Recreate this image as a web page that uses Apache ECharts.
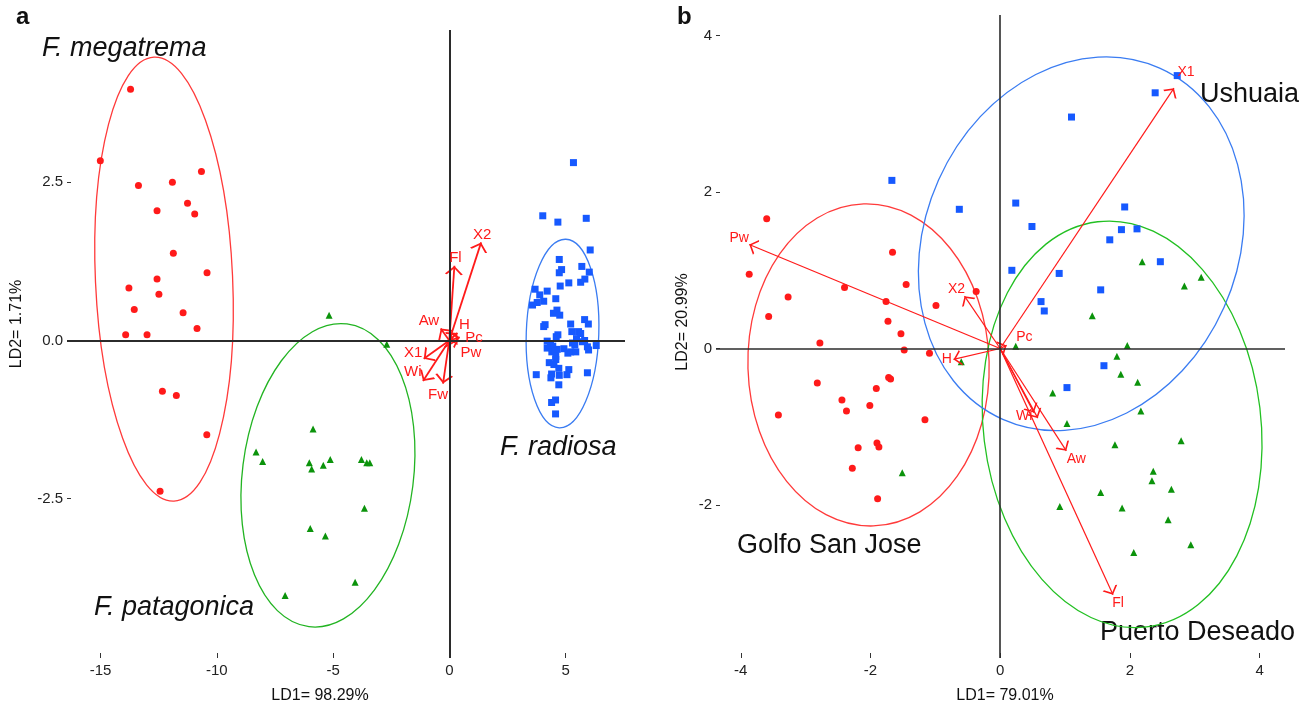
<!DOCTYPE html>
<html>
<head>
<meta charset="utf-8">
<script src="https://cdn.jsdelivr.net/npm/echarts@6/dist/echarts.min.js"></script>
<style>
html, body { margin: 0; padding: 0; background: #fff; }
#main { width: 1309px; height: 709px; }
</style>
</head>
<body>
<div id="main"></div>
<script>
// ---------- panel a : species ----------
var aRed = [[-13.71,3.97],[-15.01,2.84],[-10.66,2.67],[-13.37,2.45],[-11.91,2.50],[-11.26,2.17],
    [-12.57,2.05],[-10.95,2.00],[-11.87,1.38],[-10.42,1.07],[-12.57,0.97],[-13.78,0.83],[-12.49,0.73],
    [-13.55,0.49],[-11.45,0.44],[-10.85,0.19],[-13.92,0.09],[-13.00,0.09],[-12.34,-0.80],[-11.74,-0.87],
    [-10.43,-1.49],[-12.44,-2.38]];
var aGreen = [[-5.17,0.40],[-2.69,-0.06],[-5.86,-1.40],[-8.31,-1.76],[-8.03,-1.91],[-6.02,-1.93],
    [-5.92,-2.03],[-5.42,-1.97],[-5.12,-1.88],[-3.78,-1.88],[-3.55,-1.93],[-3.42,-1.93],[-3.65,-2.65],
    [-5.98,-2.97],[-5.33,-3.09],[-4.05,-3.82],[-7.06,-4.03]];
var aBlue = [[5.34,2.81],[4.02,1.97],[4.67,1.87],[5.89,1.93],[6.06,1.43],[4.73,1.28],[4.83,1.12],
    [4.73,1.07],[5.70,1.17],[6.02,1.08],[5.83,0.97],[5.65,0.92],[5.14,0.91],[4.77,0.86],[3.69,0.81],
    [4.21,0.78],[3.89,0.72],[4.58,0.66],[3.78,0.60],[4.06,0.62],[3.58,0.56],[4.63,0.48],[4.48,0.43],
    [4.75,0.40],[5.82,0.33],[5.98,0.26],[5.22,0.26],[4.12,0.25],[4.06,0.22],[5.27,0.14],[5.56,0.14],
    [5.65,0.11],[4.67,0.09],[4.60,0.06],[5.47,0.03],[5.82,0.00],[5.73,-0.02],[4.21,-0.01],[4.35,-0.05],
    [5.30,-0.04],[4.45,-0.09],[4.21,-0.12],[4.64,-0.14],[4.93,-0.13],[5.40,-0.07],[5.94,-0.10],
    [5.99,-0.15],[6.32,-0.08],[4.41,-0.18],[4.56,-0.17],[5.10,-0.20],[5.22,-0.18],[5.44,-0.18],
    [4.58,-0.25],[4.58,-0.30],[4.30,-0.35],[4.50,-0.38],[4.71,-0.44],[5.14,-0.46],[5.06,-0.54],
    [3.74,-0.54],[4.40,-0.53],[4.37,-0.59],[4.73,-0.55],[5.94,-0.51],[4.71,-0.70],[4.57,-0.94],
    [4.40,-0.98],[4.57,-1.16]];
// variable loadings (arrow tips)
var aVarNames = ['X2', 'Fl', 'Aw', 'H', 'Pc', 'Pw', 'X1', 'Wi', 'Fw'];
var aVarLoad = [[1.37,1.55],[0.22,1.18],[-0.37,0.19],[0.35,0.12],[0.45,0.05],[0.25,-0.03],
    [-1.10,-0.29],[-1.13,-0.64],[-0.27,-0.68]];
// ellipses: centre x, centre y, half width, half height, rotation (rad)
var aEllRed = [-12.27, 0.97, 2.95, 3.51, 0.045];
var aEllGreen = [-5.22, -2.13, 3.68, 2.41, -0.125];
var aEllBlue = [4.87, 0.11, 1.56, 1.49, -0.035];
var aXTicks = [-15, -10, -5, 0, 5];
var aYTicks = [-2.5, 0, 2.5];

// ---------- panel b : localities ----------
var bRed = [[-3.60,1.66],[-3.87,0.95],[-3.27,0.66],[-3.57,0.41],[-2.40,0.78],[-1.66,1.23],[-1.45,0.82],
    [-1.76,0.60],[-0.99,0.55],[-1.73,0.35],[-1.53,0.19],[-2.78,0.07],[-1.48,-0.02],[-1.09,-0.06],
    [-0.37,0.73],[-2.82,-0.44],[-1.72,-0.37],[-1.69,-0.39],[-1.91,-0.51],[-2.44,-0.66],[-2.37,-0.80],
    [-2.01,-0.73],[-3.42,-0.85],[-1.16,-0.91],[-2.19,-1.27],[-1.90,-1.21],[-1.87,-1.26],[-2.28,-1.53],
    [-1.89,-1.92]];
var bBlue = [[-1.67,2.15],[-0.63,1.78],[2.73,3.49],[2.39,3.27],[1.10,2.96],[0.24,1.86],[1.92,1.81],
    [0.49,1.56],[1.87,1.52],[2.11,1.53],[1.69,1.39],[2.47,1.11],[0.18,1.00],[0.91,0.96],[1.55,0.75],
    [0.63,0.60],[0.68,0.48],[1.60,-0.22],[1.03,-0.50]];
var bGreen = [[2.19,1.11],[3.10,0.91],[2.84,0.80],[1.42,0.42],[0.24,0.03],[1.96,0.04],[1.80,-0.10],
    [1.86,-0.33],[2.12,-0.43],[0.81,-0.57],[2.17,-0.80],[1.03,-0.96],[2.79,-1.18],[1.77,-1.23],
    [2.36,-1.57],[2.34,-1.69],[2.64,-1.80],[1.55,-1.84],[0.92,-2.02],[1.88,-2.04],[2.59,-2.19],
    [2.94,-2.51],[2.06,-2.61],[-0.60,-0.17],[-1.51,-1.59]];
var bVarNames = ['Pw', 'X2', 'H', 'Pc', 'X1', 'Wi', 'Fw', 'Aw', 'Fl'];
var bVarLoad = [[-3.87,1.33],[-0.55,0.67],[-0.72,-0.14],[0.10,0.04],[2.68,3.33],[0.58,-0.89],
    [0.52,-0.82],[1.02,-1.31],[1.74,-3.15]];
var bEllRed = [-2.03, -0.21, 1.86, 2.06, 0.03];
var bEllGreen = [1.88, -0.97, 2.14, 2.61, 0.12];
var bEllBlue = [1.25, 1.34, 2.41, 2.46, -0.42];
var bXTicks = [-4, -2, 0, 2, 4];
var bYTicks = [-2, 0, 2, 4];

// label placement for the arrow names (position, offset)
var aLabelPos = {
    X2: ['top', [1, 3]], Fl: ['top', [1, 3]], Aw: ['left', [2, -8]], H: ['right', [-2, -8]],
    Pc: ['right', [2, 1]], Pw: ['right', [2, 10]], X1: ['left', [2, -6]], Wi: ['left', [2, -9]],
    Fw: ['bottom', [-5, 0]]
};
var bLabelPos = {
    Pw: ['top', [-10, 4]], X2: ['top', [-8, 4]], H: ['left', [2, 0]], Pc: ['right', [6, -8]],
    X1: ['right', [0, -16]], Wi: ['left', [-2, -2]], Fw: ['left', [0, 0]], Aw: ['bottom', [10, -2]],
    Fl: ['bottom', [5, -2]]
};

var RED = '#ff1a1a', GREEN = '#0b930b', BLUE = '#1659ff';
var FONT = '"Liberation Sans", Arial, sans-serif';
// open arrow head, tip at the symbol centre
var ARROW = 'path://M5,0 L5.01,0 Z M5,10 L10,19 L8.9,19.8 L5,12.6 L1.1,19.8 L0,19 Z';

function ellipseItem(params, api) {
    var c = api.coord([api.value(0), api.value(1)]);
    var s = api.size([api.value(2), api.value(3)]);
    return {
        type: 'ellipse',
        x: c[0], y: c[1],
        rotation: api.value(4),
        shape: { cx: 0, cy: 0, rx: s[0], ry: s[1] },
        style: { fill: 'none', stroke: api.visual('color'), lineWidth: 1.3 }
    };
}

function ellipseSeries(idx, ell, color) {
    return {
        type: 'custom', xAxisIndex: idx, yAxisIndex: idx,
        renderItem: ellipseItem, clip: false, silent: true,
        itemStyle: { color: color },
        data: [ell], z: 2
    };
}

function pointSeries(idx, data, symbol, size, color, withZeroLines) {
    var s = {
        type: 'scatter', xAxisIndex: idx, yAxisIndex: idx,
        symbol: symbol, symbolSize: size,
        itemStyle: { color: color, opacity: 1 },
        data: data, z: 3
    };
    if (withZeroLines) {
        s.markLine = {
            silent: true, symbol: 'none', label: { show: false },
            lineStyle: { color: '#2b2b2b', width: idx === 0 ? 2 : 1.6, type: 'solid' },
            data: [{ xAxis: 0 }, { yAxis: 0 }]
        };
    }
    return s;
}

function arrowSeries(idx, load, width, headSize) {
    return {
        type: 'lines', coordinateSystem: 'cartesian2d', xAxisIndex: idx, yAxisIndex: idx,
        symbol: ['none', ARROW], symbolSize: headSize,
        lineStyle: { color: RED, width: width, opacity: 1 },
        data: load.map(function (p) { return { coords: [[0, 0], p] }; }),
        z: 4, silent: true
    };
}

function arrowLabelSeries(idx, names, load, pos, fontSize) {
    return {
        type: 'scatter', xAxisIndex: idx, yAxisIndex: idx,
        symbolSize: 1, itemStyle: { color: 'rgba(0,0,0,0)', opacity: 1 }, silent: true, z: 5,
        data: names.map(function (n, i) {
            return {
                name: n, value: load[i],
                label: {
                    show: n !== 'Fw' || idx === 0,
                    position: pos[n][0], offset: pos[n][1], distance: 3,
                    formatter: '{b}', color: RED, fontSize: fontSize, fontFamily: FONT
                }
            };
        })
    };
}

function xAxis(idx, min, max, ticks) {
    return {
        type: 'value', gridIndex: idx, min: min, max: max,
        axisLine: { show: false, onZero: false }, splitLine: { show: false },
        axisTick: { show: true, inside: true, length: 5, customValues: ticks, lineStyle: { color: '#333' } },
        axisLabel: { customValues: ticks, margin: 5, color: '#222', fontSize: 15, fontFamily: FONT }
    };
}

function yAxis(idx, min, max, ticks, fmt) {
    return {
        type: 'value', gridIndex: idx, min: min, max: max,
        axisLine: { show: false, onZero: false }, splitLine: { show: false },
        axisTick: { show: true, inside: true, length: 4, customValues: ticks, lineStyle: { color: '#333' } },
        axisLabel: { customValues: ticks, margin: 4, color: '#222', fontSize: 15, fontFamily: FONT, formatter: fmt }
    };
}

function txt(x, y, text, size, opt) {
    opt = opt || {};
    return {
        type: 'text', x: x, y: y, rotation: opt.rotation || 0, silent: true,
        style: {
            text: text, fill: '#111', font: (opt.style || '') + ' ' + size + 'px ' + FONT,
            textAlign: opt.align || 'left', textVerticalAlign: 'middle'
        }
    };
}

var chart = echarts.init(document.getElementById('main'));
chart.setOption({
    animation: false,
    backgroundColor: '#fff',
    grid: [
        { left: 67, top: 30, width: 558, height: 628 },
        { left: 716, top: 15, width: 569, height: 643 }
    ],
    xAxis: [
        xAxis(0, -16.443, 7.557, aXTicks),
        xAxis(1, -4.382, 4.392, bXTicks)
    ],
    yAxis: [
        yAxis(0, -5.016, 4.905, aYTicks, function (v) { return v.toFixed(1); }),
        yAxis(1, -3.958, 4.265, bYTicks, function (v) { return String(v); })
    ],
    graphic: [
        txt(16, 17, 'a', 24, { style: 'bold' }),
        txt(677, 17, 'b', 24, { style: 'bold' }),
        txt(42, 48, 'F. megatrema', 27, { style: 'italic' }),
        txt(94, 607, 'F. patagonica', 27, { style: 'italic' }),
        txt(500, 447, 'F. radiosa', 27, { style: 'italic' }),
        txt(1200, 95, 'Ushuaia', 27),
        txt(737, 546, 'Golfo San Jose', 27),
        txt(1100, 633, 'Puerto Deseado', 27),
        txt(320, 696, 'LD1= 98.29%', 16, { align: 'center' }),
        txt(1005, 696, 'LD1= 79.01%', 16, { align: 'center' }),
        txt(17, 324, 'LD2= 1.71%', 16, { align: 'center', rotation: Math.PI / 2 }),
        txt(683, 322, 'LD2= 20.99%', 16, { align: 'center', rotation: Math.PI / 2 })
    ],
    series: [
        ellipseSeries(0, aEllRed, '#ff3a3a'),
        ellipseSeries(0, aEllGreen, '#22b422'),
        ellipseSeries(0, aEllBlue, '#3a7cf2'),
        pointSeries(0, aRed, 'circle', 7, RED, true),
        pointSeries(0, aGreen, 'triangle', 7, GREEN),
        pointSeries(0, aBlue, 'rect', 7, BLUE),
        arrowSeries(0, aVarLoad, 1.8, [9, 18]),
        arrowLabelSeries(0, aVarNames, aVarLoad, aLabelPos, 15),

        ellipseSeries(1, bEllRed, '#ff3a3a'),
        ellipseSeries(1, bEllGreen, '#22c022'),
        ellipseSeries(1, bEllBlue, '#3a7cf2'),
        pointSeries(1, bRed, 'circle', 7, RED, true),
        pointSeries(1, bGreen, 'triangle', 7, GREEN),
        pointSeries(1, bBlue, 'rect', 7, BLUE),
        arrowSeries(1, bVarLoad, 1.2, [8, 16]),
        arrowLabelSeries(1, bVarNames, bVarLoad, bLabelPos, 14)
    ]
});
</script>
</body>
</html>
